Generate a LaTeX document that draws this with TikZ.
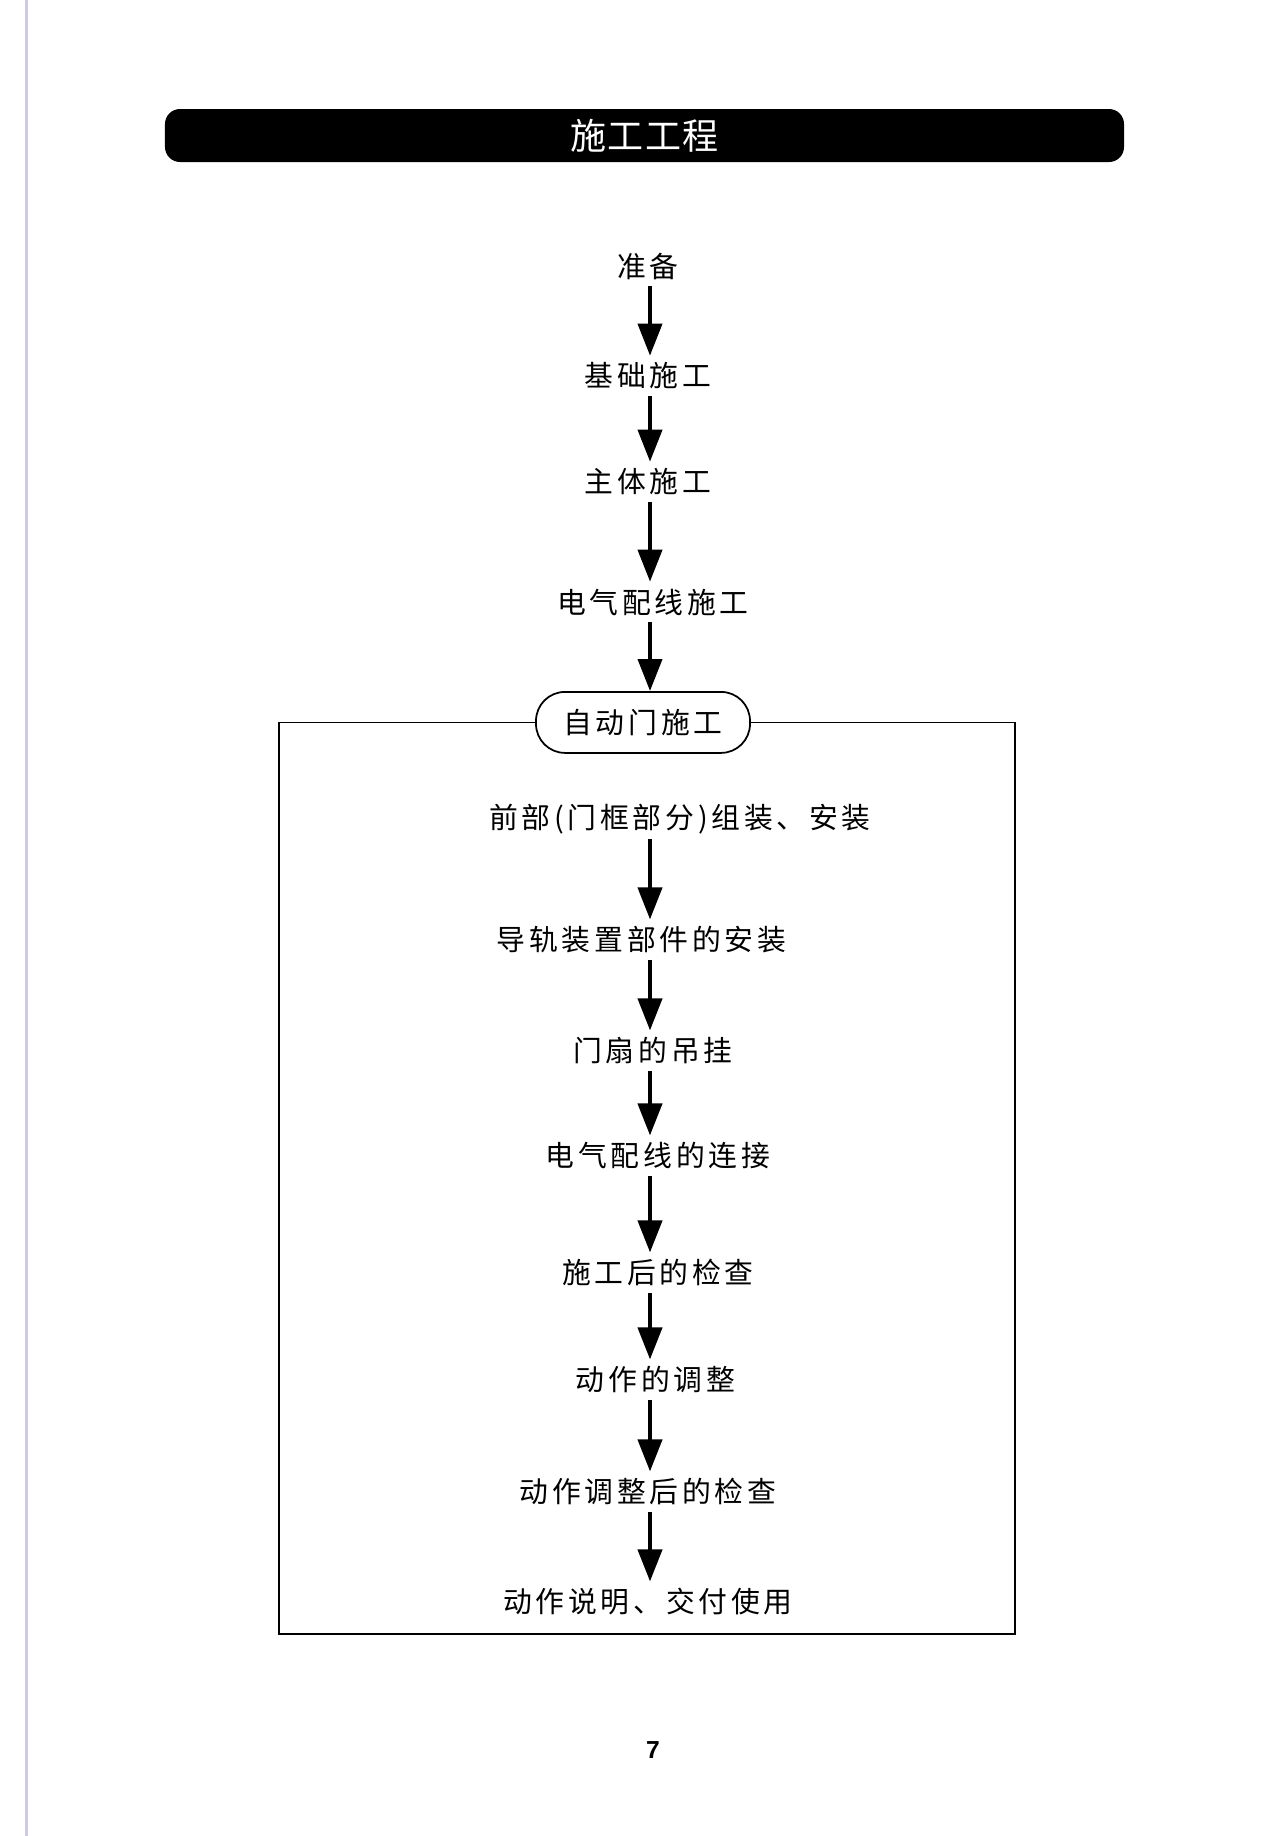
\documentclass[tikz,border=0pt]{standalone}
\usepackage{fontspec}
\setmainfont{Liberation Sans}
\newfontfamily\cjk[LetterSpace=13]{Noto Sans CJK SC}
\newfontfamily\cjktitle[LetterSpace=4]{Noto Sans CJK SC}
\usetikzlibrary{matrix}
\usetikzlibrary{arrows.meta}
\usepackage{xcolor}
\definecolor{pageedge}{RGB}{208,202,228}

\tikzset{
  flowtext/.style={font=\cjk\fontsize{16.4}{19}\selectfont, inner sep=0pt, minimum height=8mm},
  subhead/.style={draw, rounded corners=5.8mm, minimum width=42.8mm, minimum height=12.2mm, line width=0.35mm},
  flowarrow/.style={line width=0.8mm, -{Triangle[length=6.4mm, width=4.8mm]}},
  titlebar/.style={fill=black, text=white, rounded corners=3mm, minimum width=191.8mm, minimum height=10.6mm, font=\cjktitle\fontsize{20.5}{24}\selectfont},
  framepen/.style={line width=0.35mm}
}

\begin{document}
\begin{tikzpicture}[x=0.2mm,y=-0.2mm]

\useasboundingbox (0,0) rectangle (1269,1836);
\draw[pageedge, line width=0.6mm] (26,0) -- (26,1836);

\node[titlebar] (title) at (644.5,135.5) {施工工程};

\matrix (a) [matrix of nodes, anchor=a-1-1.center, row sep=0mm, nodes={flowtext}] at (648,266) {
准备 \\[14mm]
基础施工 \\[13.2mm]
主体施工 \\[16mm]
|[xshift=1mm]| 电气配线施工 \\[13.8mm]
|[subhead, xshift=-1mm]| 自动门施工 \\[9mm]
|[xshift=6.4mm]| 前部(门框部分)组装、安装 \\[16.2mm]
|[xshift=-1.3mm]| 导轨装置部件的安装 \\[14.2mm]
|[xshift=1mm]| 门扇的吊挂 \\[13mm]
|[xshift=2mm]| 电气配线的连接 \\[15.4mm]
|[xshift=2mm]| 施工后的检查 \\[13.4mm]
|[xshift=1.5mm]| 动作的调整 \\[14.4mm]
动作调整后的检查 \\[14mm]
动作说明、交付使用 \\
};

\coordinate (axis) at (650,0);
\foreach \i/\j in {1/2, 2/3, 3/4, 4/5, 6/7, 7/8, 8/9, 9/10, 10/11, 11/12, 12/13}
\draw[flowarrow] (axis |- a-\i-1.south) -- (axis |- a-\j-1.north);

\coordinate (frameSW) at (279,1634);
\coordinate (frameNE) at (1015,722);
\draw[framepen] (a-5-1.west) -| (frameSW) -| (a-5-1.east -| frameNE) -- (a-5-1.east);

\node[font=\bfseries\fontsize{14}{16}\selectfont] (pagenum) at (653,1750) {7};

\end{tikzpicture}
\end{document}
